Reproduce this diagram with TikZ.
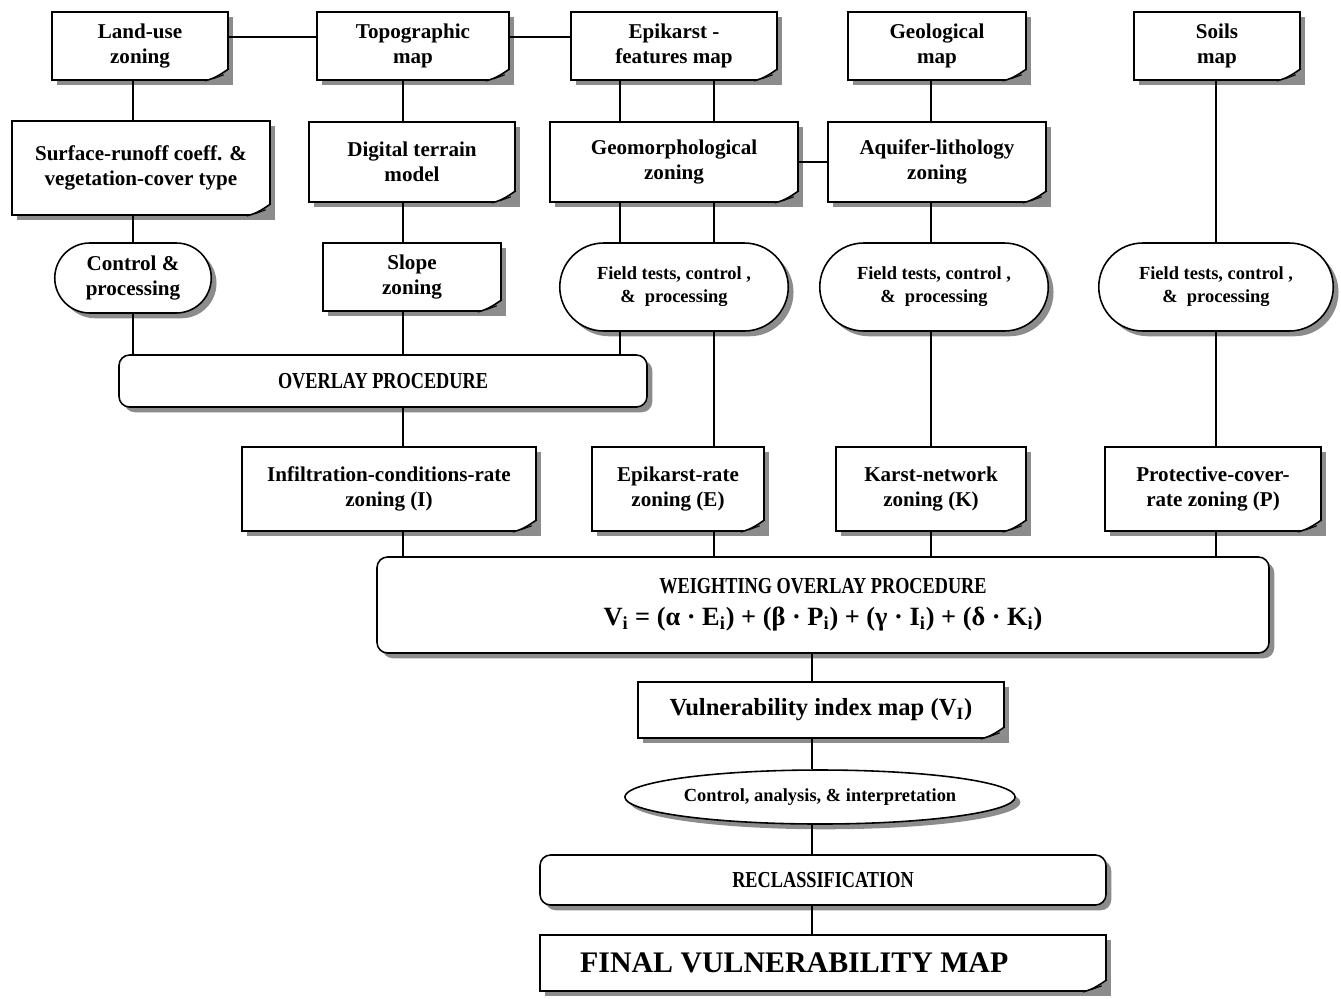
\documentclass[tikz,border=0pt]{standalone}
\usepackage{fontspec}
\setmainfont{Liberation Serif}
\usepackage{graphicx}
\usepackage{tikz}
\usetikzlibrary{calc, shapes.misc, shapes.geometric, shadows}

\newcommand{\narrowcaps}[1]{\scalebox{0.8}[1]{#1}}

\begin{document}
\begin{tikzpicture}[x=0.02cm, y=-0.02cm, font=\bfseries\fontsize{12}{14.5}\selectfont,
  sz/.style 2 args={minimum width=#1*0.02cm, minimum height=#2*0.02cm},
  shad/.style={drop shadow={shadow xshift=3pt, shadow yshift=-3pt,
               fill=black!45, opacity=1}},
  base/.style={draw, line width=0.9pt, fill=white, align=center,
               inner sep=1pt, shad},
  doc/.style={base, rectangle},
  oval/.style={base, rounded rectangle},
  proc/.style={base, rectangle, rounded corners=6pt},
  ell/.style={base, ellipse},
  small/.style={font=\bfseries\fontsize{10.5}{13}\selectfont},
  caps/.style={font=\bfseries\fontsize{13}{16}\selectfont},
  link/.style={draw, line width=1pt},
  curl/.style={fill=black!45}]
\useasboundingbox (0,0) rectangle (1341,998);

% sources
\node[doc, sz={176}{68}] (landuse) at (140,46) {Land-use\\zoning};
\node[doc, sz={192}{68}] (topomap) at (413,46) {Topographic\\map};
\node[doc, sz={206}{68}] (epimap)  at (674,46) {Epikarst -\\features map};
\node[doc, sz={178}{68}] (geomap)  at (937,46) {Geological\\map};
\node[doc, sz={166}{68}] (soilmap) at (1217,46) {Soils\\map};

% derived layers
\node[doc, sz={258}{94}] (runoff)   at (141,168) {Surface-runoff coeff. \&\\vegetation-cover type};
\node[doc, sz={206}{80}] (dtm)      at (412,162) {Digital terrain\\model};
\node[doc, sz={248}{80}] (geomorph) at (674,162) {Geomorphological\\zoning};
\node[doc, sz={218}{80}] (aquifer)  at (937,162) {Aquifer-lithology\\zoning};

\node[oval, sz={160}{70}] (ctrl)   at (133,278) {Control \&\\processing};
\node[doc,  sz={178}{68}] (slope)  at (412,277) {Slope\\zoning};
\node[oval, small, sz={232}{88}] (field1) at (674,287) {Field tests, control ,\\\&\ \ processing};
\node[oval, small, sz={232}{88}] (field2) at (934,287) {Field tests, control ,\\\&\ \ processing};
\node[oval, small, sz={238}{88}] (field3) at (1216,287) {Field tests, control ,\\\&\ \ processing};

\node[proc, caps, sz={528}{52}] (overlay) at (383,381) {\narrowcaps{OVERLAY PROCEDURE}};

% rated zonings
\node[doc, sz={294}{84}] (infil)   at (389,489) {Infiltration-conditions-rate\\zoning (I)};
\node[doc, sz={172}{84}] (epirate) at (678,489) {Epikarst-rate\\zoning (E)};
\node[doc, sz={190}{84}] (karst)   at (931,489) {Karst-network\\zoning (K)};
\node[doc, sz={216}{84}] (protect) at (1213,489) {Protective-cover-\\rate zoning (P)};

\node[proc, caps, sz={892}{96}] (weighting) at (823,605)
  {\narrowcaps{WEIGHTING OVERLAY PROCEDURE}\\[2pt]
   {\fontsize{15}{17}\selectfont V\textsubscript{i} = (α · E\textsubscript{i}) + (β · P\textsubscript{i}) + (γ · I\textsubscript{i}) + (δ · K\textsubscript{i})}};

% result chain
\node[doc, font=\bfseries\fontsize{14}{16}\selectfont, sz={366}{56}] (vindex) at (821,710)
  {Vulnerability index map (V\textsubscript{I})};
\node[ell, font=\bfseries\fontsize{10.5}{12}\selectfont, sz={390}{54}] (analysis) at (820,797)
  {Control, analysis, \& interpretation};
\node[proc, caps, sz={566}{50}] (reclass) at (823,880) {\narrowcaps{RECLASSIFICATION}};
\node[doc, font=\bfseries\fontsize{17}{19}\selectfont, sz={566}{56}] (final) at (823,963)
  {FINAL VULNERABILITY MAP\hspace*{1.15cm}};

% folded corners
\foreach \n in {landuse,topomap,epimap,geomap,soilmap,runoff,dtm,geomorph,aquifer,
                slope,infil,epirate,karst,protect,vindex,final}{
  \fill[curl] ($(\n.south east)+(-24,0)$) -- ($(\n.south east)+(2,2)$)
    -- ($(\n.south east)+(2,-12)$) -- ($(\n.south east)+(0,-12)$)
    .. controls ($(\n.south east)+(-6,-8)$) and ($(\n.south east)+(-14,-2)$)
    .. ($(\n.south east)+(-24,0)$) -- cycle;
  \draw[line width=0.9pt] ($(\n.south east)+(-24,0)$)
    .. controls ($(\n.south east)+(-14,-2)$) and ($(\n.south east)+(-6,-8)$)
    .. ($(\n.south east)+(0,-12)$);
  \draw[line width=0.6pt] ($(\n.south east)+(-16,-2)$) -- ($(\n.south east)+(-5,-6)$);
}

% columns
\coordinate (cA) at (133,0);
\coordinate (cB) at (403,0);
\coordinate (cC) at (620,0);
\coordinate (cD) at (714,0);
\coordinate (cE) at (931,0);
\coordinate (cF) at (1216,0);
\coordinate (cG) at (812,0);

\foreach \a/\b/\c in {landuse/runoff/cA, runoff/ctrl/cA, ctrl/overlay/cA,
    topomap/dtm/cB, dtm/slope/cB, slope/overlay/cB, overlay/infil/cB, infil/weighting/cB,
    epimap/geomorph/cC, geomorph/field1/cC, field1/overlay/cC,
    epimap/geomorph/cD, geomorph/field1/cD, field1/epirate/cD, epirate/weighting/cD,
    geomap/aquifer/cE, aquifer/field2/cE, field2/karst/cE, karst/weighting/cE,
    soilmap/field3/cF, field3/protect/cF, protect/weighting/cF,
    weighting/vindex/cG, vindex/analysis/cG, analysis/reclass/cG, reclass/final/cG}
  \draw[link] (\a.south -| \c) -- (\b.north -| \c);

\draw[link] ($(landuse.east)+(0,-9)$) -- ($(topomap.west)+(0,-9)$);
\draw[link] ($(topomap.east)+(0,-9)$) -- ($(epimap.west)+(0,-9)$);
\draw[link] (geomorph.east) -- (aquifer.west);
\end{tikzpicture}
\end{document}
